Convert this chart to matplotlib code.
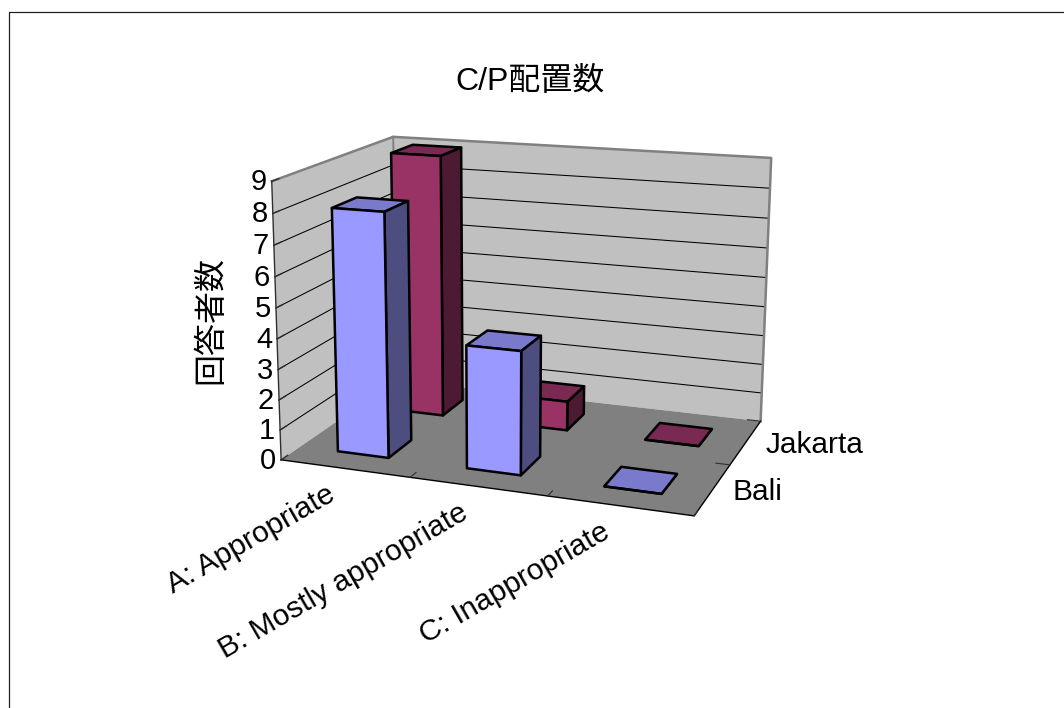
import numpy as np
import matplotlib
matplotlib.use("Agg")
import matplotlib.pyplot as plt
from matplotlib.lines import Line2D
from mpl_toolkits.mplot3d.art3d import Poly3DCollection

plt.rcParams['font.family'] = ['Liberation Sans', 'Noto Sans CJK JP', 'DejaVu Sans']

title = "C/P配置数"
z_title = "回答者数"
categories = ["A: Appropriate", "B: Mostly appropriate", "C: Inappropriate"]
series_names = ["Bali", "Jakarta"]
bali = [8, 4, 0]
jakarta = [9, 1, 0]
z_ticks = list(range(0, 10))

W, H = 1064, 708
fig = plt.figure(figsize=(W / 100, H / 100), dpi=100, facecolor="white")
ax = fig.add_axes([0, 0, 1, 1], projection="3d")
ax.set_axis_off()
ax.patch.set_alpha(0)
ax.computed_zorder = False
ax.set_proj_type("ortho")
ax.apply_aspect = lambda position=None: None

# Camera: a projective map from (category, series, count) to canvas pixels,
# solved from where the corners of the plot box should land.
box_corners = [
    ((0, 0, 0), (282, 460)), ((3, 0, 0), (694, 516)),
    ((3, 2, 0), (761, 421)), ((0, 2, 0), (396, 380)),
    ((0, 0, 9), (271, 181)), ((0, 2, 9), (394, 137)),
    ((3, 2, 9), (771, 158)),
]
rows, rhs = [], []
for (X, Y, Z), (u, v) in box_corners:
    rows.append([X, Y, Z, 1, 0, 0, 0, 0, -u * X, -u * Y, -u * Z])
    rhs.append(u)
    rows.append([0, 0, 0, 0, X, Y, Z, 1, -v * X, -v * Y, -v * Z])
    rhs.append(v)
sol = np.linalg.lstsq(np.array(rows, float), np.array(rhs, float), rcond=None)[0]
P = np.array([sol[:4], sol[4:8], [sol[8], sol[9], sol[10], 1.0]])


def to_pixel(x, y, z):
    u, v, w = P @ np.array([x, y, z, 1.0])
    return u / w, v / w


def camera():
    flip = np.array([[1, 0, 0], [0, -1, H], [0, 0, 1.0]])
    to_view = ax.transData.inverted().get_matrix() @ flip @ P
    return np.array([to_view[0], to_view[1], [0, 0.25, 0, 0], to_view[2]])


ax.get_proj = camera

WALL, FLOOR, RIM = "#C0C0C0", "#808080", "#808080"
nx, ny, nz = len(categories), len(series_names), z_ticks[-1]

# Walls and floor
ax.add_collection3d(Poly3DCollection(
    [[(0, 0, 0), (0, ny, 0), (0, ny, nz), (0, 0, nz)],
     [(0, ny, 0), (nx, ny, 0), (nx, ny, nz), (0, ny, nz)]],
    facecolors=WALL, edgecolors="none", zorder=1))
ax.add_collection3d(Poly3DCollection(
    [[(0, 0, 0), (nx, 0, 0), (nx, ny, 0), (0, ny, 0)]],
    facecolors=FLOOR, edgecolors="none", zorder=1))

# Gridlines and wall rims
for t in z_ticks[1:-1]:
    ax.plot([0, 0, nx], [0, ny, ny], [t, t, t], color="black", lw=0.75, zorder=2)
ax.plot([0, 0, nx, nx], [0, ny, ny, ny], [nz, nz, nz, 0], color=RIM, lw=1.8, zorder=2)
ax.plot([0, 0], [ny, ny], [0, nz], color=RIM, lw=1.4, zorder=2)

# Axis lines and tick marks
ax.plot([0, 0], [0, 0], [0, nz], color="#303030", lw=1.0, zorder=3)
ax.plot([0, nx, nx], [0, 0, ny], [0, 0, 0], color="black", lw=1.0, zorder=3)
for t in z_ticks:
    ax.plot([0, 0], [0, 0.1], [t, t], color="#303030", lw=1.0, zorder=3)
for i in range(1, nx + 1):
    ax.plot([i, i], [0, 0.1], [0, 0], color="#303030", lw=0.8, zorder=3)
for j in range(1, ny + 1):
    ax.plot([nx, nx - 0.1], [j, j], [0, 0], color="#303030", lw=0.8, zorder=3)

# Bars, back row first. Face order: bottom, top, front, back, left, right.
bar_width = 0.4
start = 0.3
palette = {
    "Jakarta": ("#993366", "#7A2952", "#4D1A33"),
    "Bali": ("#9999FF", "#7A7ACC", "#4D4D80"),
}
rows_back_to_front = [(1, "Jakarta", jakarta), (0, "Bali", bali)]
order = 4
for j, name, values in rows_back_to_front:
    front, top, side = palette[name]
    faces = ["none", top, front, "none", "none", side]
    edges = ["none", "black", "black", "none", "none", "black"]
    for i, value in enumerate(values):
        ax.bar3d(i + start, j + start, 0, bar_width, bar_width, value,
                 color=faces, edgecolors=edges, shade=False, linewidths=1.8,
                 zorder=order)
        order += 1

# Text placed relative to the projected axes
for t in z_ticks:
    u, v = to_pixel(0, 0, t)
    fig.text((u - 5) / W, 1 - (v + 1) / H, str(t), ha="right", va="center",
             fontsize=21, color="black")
for i, label in enumerate(categories):
    u, v = to_pixel(i + 0.5, 0, 0)
    fig.text((u - 12) / W, 1 - (v + 24) / H, label, ha="right", va="center",
             rotation=30, rotation_mode="anchor", fontsize=21.5, color="black")
for j, name in enumerate(series_names):
    u, v = to_pixel(nx, j + 0.5, 0)
    fig.text((u + 20) / W, 1 - (v + 3) / H, name, ha="left", va="center",
             fontsize=21.5, color="black")

fig.text(530 / W, 1 - 82 / H, title, ha="center", va="center", fontsize=23, color="black")
fig.text(211 / W, 1 - 320 / H, z_title, ha="center", va="center", rotation=90,
         fontsize=23, color="black")

# Chart area border (open at the right and bottom)
fig.add_artist(Line2D([9 / W, 9 / W, 1], [0, 1 - 12 / H, 1 - 12 / H],
                      transform=fig.transFigure, color="#202020", lw=0.9))

fig.savefig("out.png", dpi=100)
